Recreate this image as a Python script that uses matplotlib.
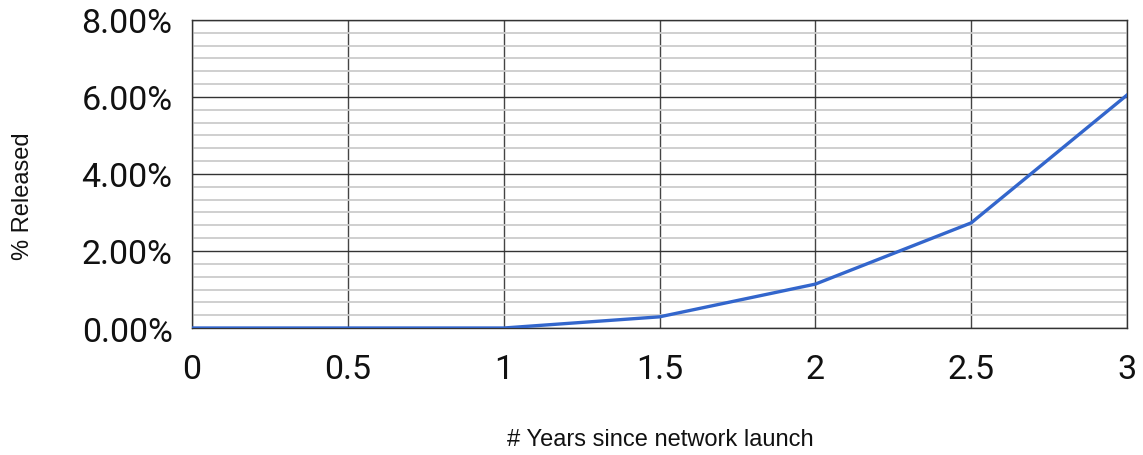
import numpy as np
import matplotlib.pyplot as plt
from matplotlib.ticker import MultipleLocator, FuncFormatter

# data
years = [0, 0.5, 1, 1.5, 2, 2.5, 3]
released_pct = [0.0, 0.0, 0.0, 0.29, 1.14, 2.73, 6.05]

x_ticks = [0, 0.5, 1, 1.5, 2, 2.5, 3]
x_tick_labels = ['0', '0.5', '1', '1.5', '2', '2.5', '3']

fig = plt.figure(figsize=(11.43, 4.56), dpi=100)
ax = fig.add_axes([0.168, 0.2785, 0.818, 0.6755])

# minor gridlines first, then major on top
ax.yaxis.set_minor_locator(MultipleLocator(2 / 6))
ax.grid(which='minor', axis='y', color='#cccccc', linewidth=1.3)
ax.grid(which='major', axis='y', color='#333333', linewidth=1.0)
ax.grid(which='major', axis='x', color='#444444', linewidth=1.0)
ax.set_axisbelow(True)

ax.plot(years, released_pct, color='#3366cc', linewidth=2.4, zorder=3)

ax.set_xlim(0, 3)
ax.set_ylim(0, 8)
ax.set_xticks(x_ticks)
ax.set_xticklabels(x_tick_labels)
ax.set_yticks([0, 2, 4, 6, 8])
ax.yaxis.set_major_formatter(FuncFormatter(lambda v, p: '%.2f%%' % v))

for lab in ax.get_xticklabels() + ax.get_yticklabels():
    lab.set_fontfamily('Roboto')
    lab.set_fontsize(24.5)
    lab.set_color('#111111')
ax.tick_params(which='both', length=0)
ax.tick_params(axis='x', pad=18)
ax.tick_params(axis='y', pad=14)

for s in ax.spines.values():
    s.set_color('#333333')
    s.set_linewidth(1.0)

fig.text(0.578, 0.035, '# Years since network launch', ha='center', va='center',
         family='Liberation Sans', fontsize=17, color='#111111')
fig.text(0.02, 0.57, '% Released', ha='center', va='center', rotation=90,
         family='Liberation Sans', fontsize=17, color='#111111')

plt.savefig('out.png', dpi=100)
